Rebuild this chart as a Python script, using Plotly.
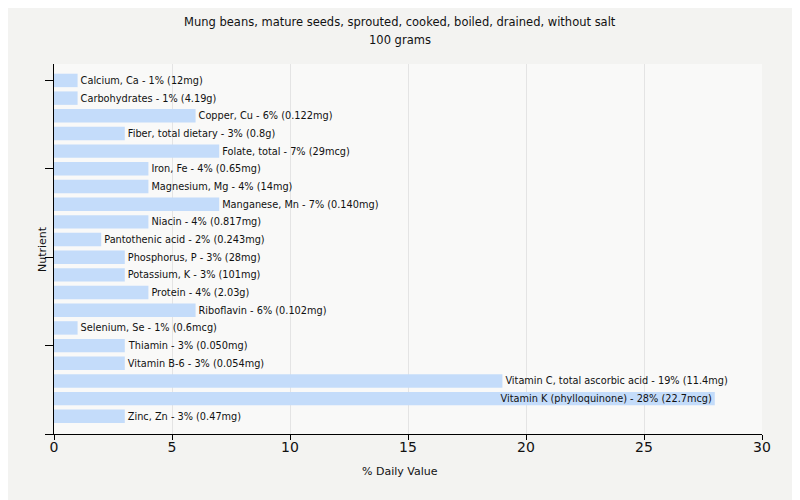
import plotly.graph_objects as go

nutrients = ["Calcium, Ca", "Carbohydrates", "Copper, Cu", "Fiber, total dietary", "Folate, total",
             "Iron, Fe", "Magnesium, Mg", "Manganese, Mn", "Niacin", "Pantothenic acid",
             "Phosphorus, P", "Potassium, K", "Protein", "Riboflavin", "Selenium, Se",
             "Thiamin", "Vitamin B-6", "Vitamin C, total ascorbic acid", "Vitamin K (phylloquinone)", "Zinc, Zn"]
daily_pct = [1, 1, 6, 3, 7, 4, 4, 7, 4, 2, 3, 3, 4, 6, 1, 3, 3, 19, 28, 3]
amounts = ["12mg", "4.19g", "0.122mg", "0.8g", "29mcg", "0.65mg", "14mg", "0.140mg", "0.817mg", "0.243mg",
           "28mg", "101mg", "2.03g", "0.102mg", "0.6mcg", "0.050mg", "0.054mg", "11.4mg", "22.7mcg", "0.47mg"]
x_ticks = [0, 5, 10, 15, 20, 25, 30]
title_lines = ["Mung beans, mature seeds, sprouted, cooked, boiled, drained, without salt", "100 grams"]

labels = [f"{n} - {p}% ({a})" for n, p, a in zip(nutrients, daily_pct, amounts)]
positions = ["inside" if p >= 27 else "outside" for p in daily_pct]
ypos = list(range(len(nutrients)))

fig = go.Figure(go.Bar(
    x=daily_pct, y=ypos, orientation="h",
    marker=dict(color="#c4dcfa", line=dict(width=0)),
    width=0.76,
    text=labels, textposition=positions, insidetextanchor="end",
    constraintext="none",
    textfont=dict(family="DejaVu Sans", size=9.75, color="#111111"),
    cliponaxis=False, hoverinfo="skip",
))

fig.update_layout(
    width=800, height=500,
    margin=dict(l=46, r=46, t=56, b=74),
    paper_bgcolor="#f3f3f1", plot_bgcolor="#f9f9f8",
    showlegend=False,
    font=dict(family="DejaVu Sans", color="#111111"),
)
tfont = dict(family="DejaVu Sans", size=11.5, color="#111111")
fig.add_annotation(text=title_lines[0], xref="paper", yref="paper", x=0.4887, y=1.1135,
                   xanchor="center", yanchor="middle", showarrow=False, font=tfont)
fig.add_annotation(text=title_lines[1], xref="paper", yref="paper", x=0.4887, y=1.0649,
                   xanchor="center", yanchor="middle", showarrow=False, font=tfont)
afont = dict(family="DejaVu Sans", size=11, color="#111111")
fig.add_annotation(text="% Daily Value", xref="paper", yref="paper", x=0.4887, y=-0.1027,
                   xanchor="center", yanchor="middle", showarrow=False, font=afont)
fig.add_annotation(text="Nutrient", xref="paper", yref="paper", x=-0.01695, y=0.5, textangle=-90,
                   xanchor="center", yanchor="middle", showarrow=False, font=afont)

fig.update_xaxes(range=[0, 30], tickvals=x_ticks, showgrid=True, gridcolor="#e4e4e4", gridwidth=1,
                 showline=True, linecolor="#000000", linewidth=1, ticks="outside", ticklen=5,
                 tickcolor="#000000", zeroline=False, automargin=False, ticklabelstandoff=-5,
                 tickfont=dict(family="Liberation Sans Narrow, DejaVu Sans", size=14))
fig.update_yaxes(range=[20, -0.93], tickvals=[0, 5, 10, 15, 20], ticktext=["", "", "", "", ""],
                 showgrid=False, showline=True, linecolor="#000000", linewidth=1,
                 ticks="outside", ticklen=8, tickcolor="#000000", zeroline=False, automargin=False)

fig.write_html("out.html")
